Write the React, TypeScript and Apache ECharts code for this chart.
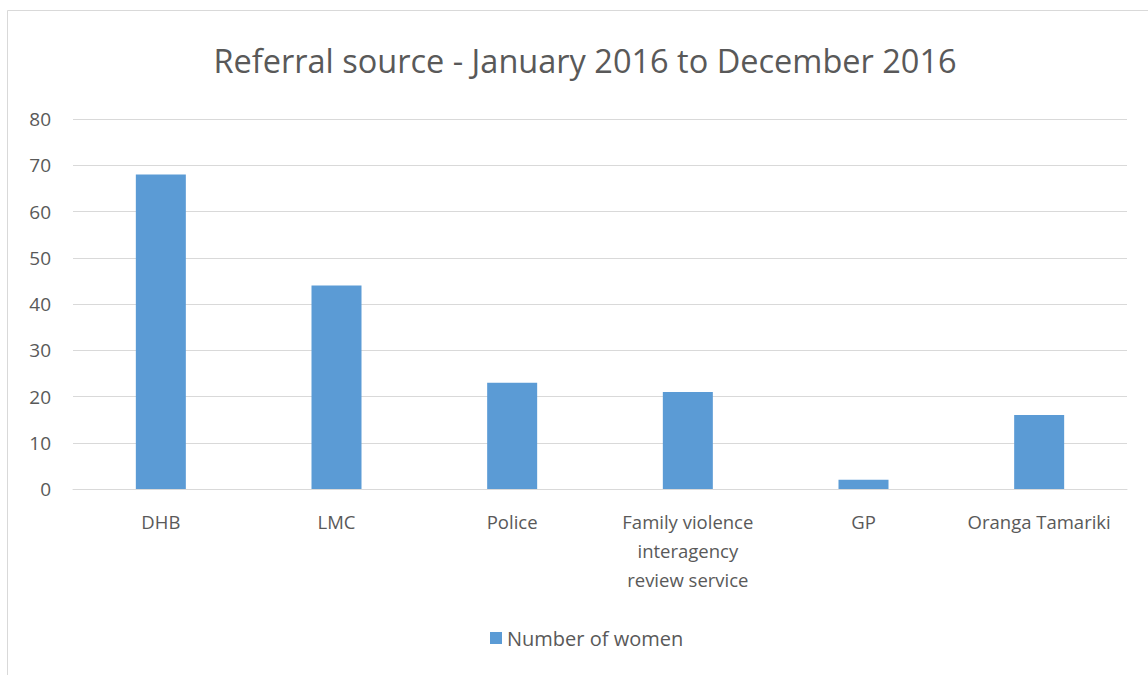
import React, { useEffect, useRef } from "react";
import * as echarts from "echarts";

const categories = [
  "DHB",
  "LMC",
  "Police",
  "Family violence\ninteragency\nreview service",
  "GP",
  "Oranga Tamariki",
];
const womenCounts = [68, 44, 23, 21, 2, 16];
const seriesName = "Number of women";
const titleText = "Referral source - January 2016 to December 2016";

export default function App() {
  const ref = useRef<HTMLDivElement>(null);
  useEffect(() => {
    if (!ref.current) return;
    const chart = echarts.init(ref.current, null, { renderer: "svg" });
    const font = "'Open Sans', sans-serif";
    chart.setOption({
      animation: false,
      backgroundColor: "#ffffff",
      textStyle: { fontFamily: font },
      title: {
        text: titleText,
        left: 580,
        top: 39,
        textAlign: "center",
        textStyle: { fontFamily: font, fontSize: 32.5, fontWeight: "normal", color: "#595959" },
      },
      graphic: [
        {
          type: "rect",
          shape: { x: 7.5, y: 10.5, width: 1160, height: 700 },
          style: { fill: "none", stroke: "#d9d9d9", lineWidth: 1 },
          silent: true,
        },
      ],
      legend: {
        data: [seriesName],
        left: 485,
        top: 623,
        itemWidth: 12,
        itemHeight: 12,
        itemGap: 6,
        icon: "rect",
        textStyle: { fontFamily: font, fontSize: 20, color: "#595959" },
      },
      grid: { left: 73, right: 21, top: 119, bottom: 186 },
      xAxis: {
        type: "category",
        data: categories,
        axisLine: { lineStyle: { color: "#d9d9d9" } },
        axisTick: { show: false },
        axisLabel: {
          fontFamily: font,
          fontSize: 18.5,
          color: "#595959",
          margin: 18,
          lineHeight: 29,
          interval: 0,
        },
      },
      yAxis: {
        type: "value",
        min: 0,
        max: 80,
        interval: 10,
        axisLine: { show: false },
        axisTick: { show: false },
        splitLine: { lineStyle: { color: "#d9d9d9" } },
        axisLabel: { fontFamily: font, fontSize: 19, color: "#595959", margin: 22 },
      },
      series: [
        {
          name: seriesName,
          type: "bar",
          data: womenCounts,
          barWidth: 50,
          itemStyle: { color: "#5b9bd5" },
        },
      ],
    });
    return () => chart.dispose();
  }, []);
  return (
    <div
      ref={ref}
      style={{ position: "absolute", left: 0, top: 0, width: 1148, height: 675 }}
    />
  );
}
